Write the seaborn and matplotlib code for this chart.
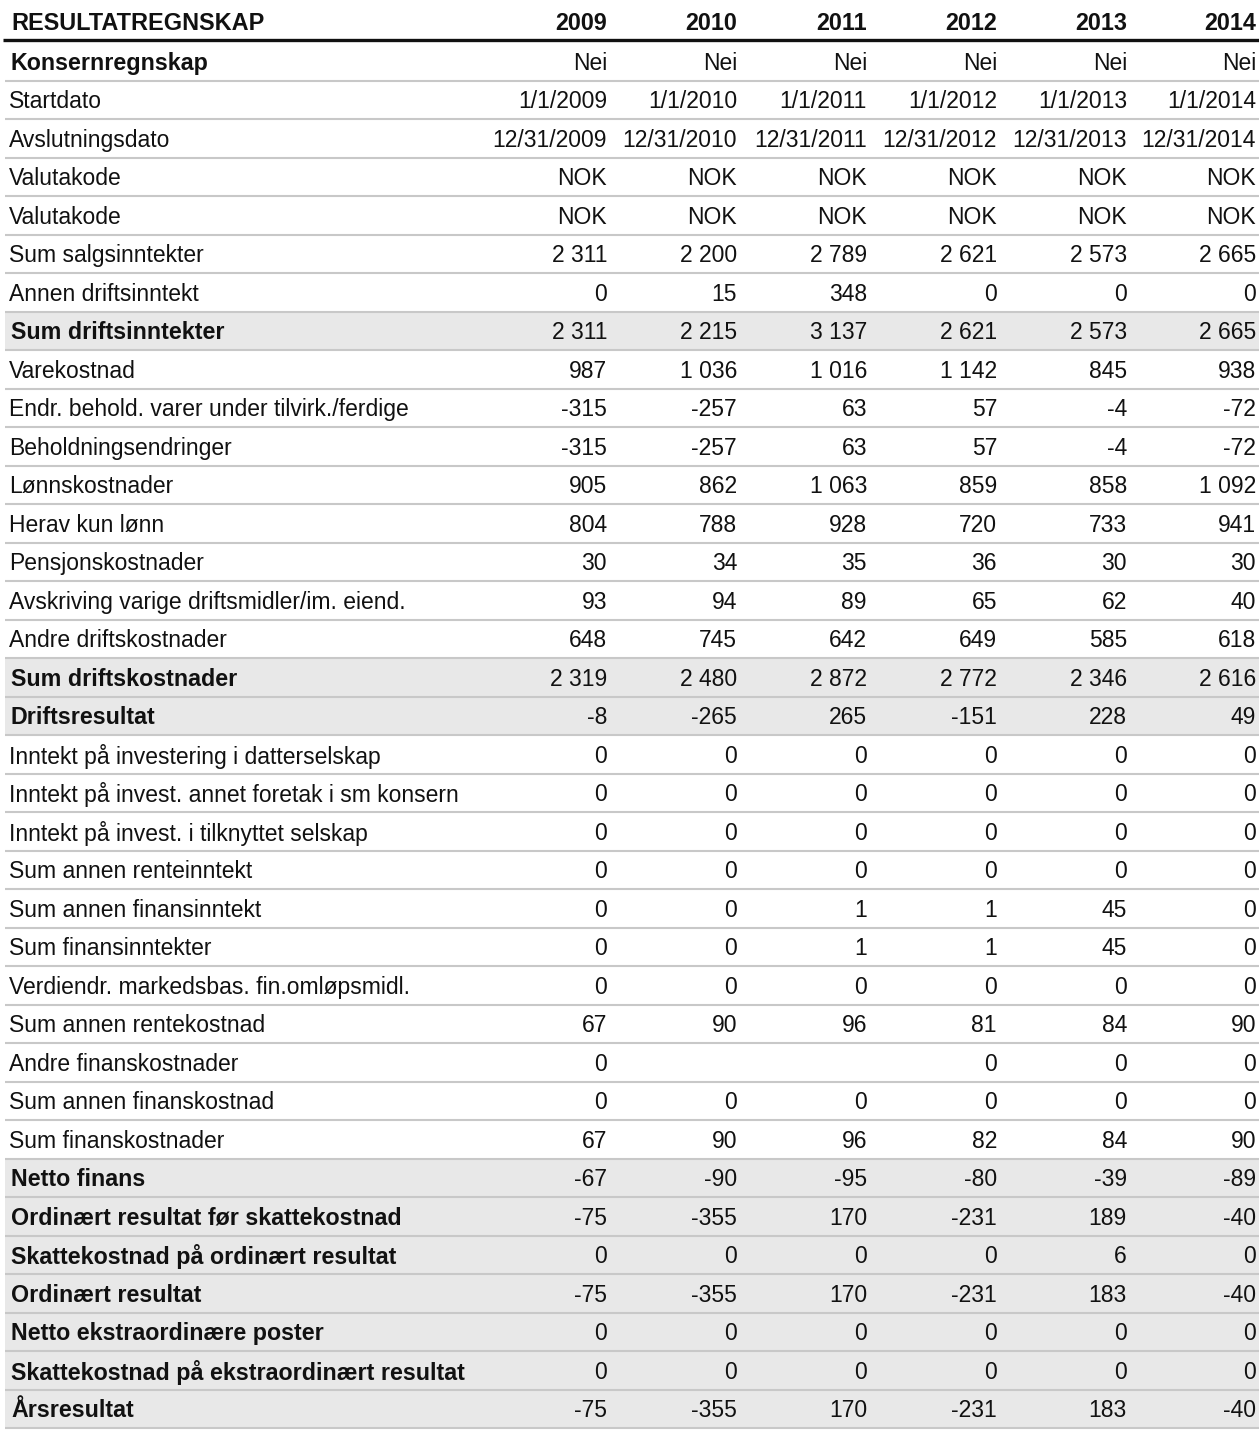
import numpy as np
import pandas as pd
import seaborn as sns
import matplotlib
matplotlib.use("Agg")
import matplotlib.pyplot as plt
from matplotlib.colors import ListedColormap

# ---------------- data ----------------
title = "RESULTATREGNSKAP"
years = ["2009", "2010", "2011", "2012", "2013", "2014"]

meta_labels = ["Konsernregnskap", "Startdato", "Avslutningsdato", "Valutakode", "Valutakode"]
konsern = ["Nei"] * 6
startdato = ["1/1/2009", "1/1/2010", "1/1/2011", "1/1/2012", "1/1/2013", "1/1/2014"]
avslutningsdato = ["12/31/2009", "12/31/2010", "12/31/2011", "12/31/2012", "12/31/2013", "12/31/2014"]
valutakode = ["NOK"] * 6

labels = [
    "Sum salgsinntekter", "Annen driftsinntekt", "Sum driftsinntekter", "Varekostnad",
    "Endr. behold. varer under tilvirk./ferdige", "Beholdningsendringer", "Lønnskostnader",
    "Herav kun lønn", "Pensjonskostnader", "Avskriving varige driftsmidler/im. eiend.",
    "Andre driftskostnader", "Sum driftskostnader", "Driftsresultat",
    "Inntekt på investering i datterselskap", "Inntekt på invest. annet foretak i sm konsern",
    "Inntekt på invest. i tilknyttet selskap", "Sum annen renteinntekt", "Sum annen finansinntekt",
    "Sum finansinntekter", "Verdiendr. markedsbas. fin.omløpsmidl.", "Sum annen rentekostnad",
    "Andre finanskostnader", "Sum annen finanskostnad", "Sum finanskostnader", "Netto finans",
    "Ordinært resultat før skattekostnad", "Skattekostnad på ordinært resultat",
    "Ordinært resultat", "Netto ekstraordinære poster",
    "Skattekostnad på ekstraordinært resultat", "Årsresultat",
]
v2009 = [2311, 0, 2311, 987, -315, -315, 905, 804, 30, 93, 648, 2319, -8,
         0, 0, 0, 0, 0, 0, 0, 67, 0, 0, 67, -67, -75, 0, -75, 0, 0, -75]
v2010 = [2200, 15, 2215, 1036, -257, -257, 862, 788, 34, 94, 745, 2480, -265,
         0, 0, 0, 0, 0, 0, 0, 90, None, 0, 90, -90, -355, 0, -355, 0, 0, -355]
v2011 = [2789, 348, 3137, 1016, 63, 63, 1063, 928, 35, 89, 642, 2872, 265,
         0, 0, 0, 0, 1, 1, 0, 96, None, 0, 96, -95, 170, 0, 170, 0, 0, 170]
v2012 = [2621, 0, 2621, 1142, 57, 57, 859, 720, 36, 65, 649, 2772, -151,
         0, 0, 0, 0, 1, 1, 0, 81, 0, 0, 82, -80, -231, 0, -231, 0, 0, -231]
v2013 = [2573, 0, 2573, 845, -4, -4, 858, 733, 30, 62, 585, 2346, 228,
         0, 0, 0, 0, 45, 45, 0, 84, 0, 0, 84, -39, 189, 6, 183, 0, 0, 183]
v2014 = [2665, 0, 2665, 938, -72, -72, 1092, 941, 30, 40, 618, 2616, 49,
         0, 0, 0, 0, 0, 0, 0, 90, 0, 0, 90, -89, -40, 0, -40, 0, 0, -40]

bold_rows = ["Konsernregnskap", "Sum driftsinntekter", "Sum driftskostnader", "Driftsresultat",
             "Netto finans", "Ordinært resultat før skattekostnad",
             "Skattekostnad på ordinært resultat", "Ordinært resultat",
             "Netto ekstraordinære poster", "Skattekostnad på ekstraordinært resultat",
             "Årsresultat"]
shaded_rows = bold_rows[1:]

# ---------------- build table ----------------
def fmt(v):
    if v is None:
        return ""
    if isinstance(v, str):
        return v
    s = f"{abs(int(v)):,}".replace(",", " ")
    return ("-" if v < 0 else "") + s

all_labels = meta_labels + labels
cols = list(zip(v2009, v2010, v2011, v2012, v2013, v2014))
meta_cols = [konsern, startdato, avslutningsdato, valutakode, valutakode]
cells = [[fmt(x) for x in r] for r in meta_cols] + [[fmt(x) for x in r] for r in cols]
df = pd.DataFrame(cells, index=all_labels, columns=years)
n = len(all_labels)

shade = np.array([[1.0 if lab in shaded_rows else 0.0] for lab in all_labels])

# ---------------- draw ----------------
sns.set_theme(style="white")
plt.rcParams["font.family"] = ["Liberation Sans", "DejaVu Sans"]

W, H = 1259, 1433
fig = plt.figure(figsize=(W / 100, H / 100), dpi=100)
x0, x1 = 5, 1259
y_top, row_h = 42, 38.5
y_bot = y_top + n * row_h
ax = fig.add_axes([x0 / W, 1 - y_bot / H, (x1 - x0) / W, (y_bot - y_top) / H])

sns.heatmap(shade, ax=ax, cmap=ListedColormap(["white", "#e8e8e8"]), cbar=False,
            xticklabels=False, yticklabels=False, vmin=0, vmax=1)
ax.set_xlim(0, 1)
ax.set_ylim(n, 0)
ax.axis("off")

def xd(px):
    return (px - x0) / (x1 - x0)

fs = 16.5
fs_bold = 16.75
col_right = [607, 737, 867, 997, 1127, 1256]
dy = 0.05

# header
ax.text(xd(11), -0.52 + dy, title, ha="left", va="center", fontsize=16.9, fontweight="bold",
        color="#111111", clip_on=False)
for yr, xr in zip(years, col_right):
    ax.text(xd(xr), -0.52 + dy, yr, ha="right", va="center", fontsize=fs_bold, fontweight="bold",
            color="#111111", clip_on=False)
ax.plot([xd(3), 1], [-0.05, -0.05], color="#111111", lw=2.4, clip_on=False,
        solid_capstyle="butt")

for i, lab in enumerate(all_labels):
    yc = i + 0.5 + dy
    is_bold = lab in bold_rows
    ax.text(xd(11 if is_bold else 9), yc, lab, ha="left", va="center",
            fontsize=fs_bold if is_bold else fs,
            fontweight="bold" if is_bold else "normal", color="#111111")
    for j, yr in enumerate(years):
        ax.text(xd(col_right[j]), yc, df.iloc[i][yr], ha="right", va="center",
                fontsize=fs, color="#111111")
    ax.plot([0, 1], [i + 1, i + 1], color="#c8c8c8", lw=1.5, clip_on=False,
            solid_capstyle="butt")

fig.savefig("out.png", dpi=100, facecolor="white")
